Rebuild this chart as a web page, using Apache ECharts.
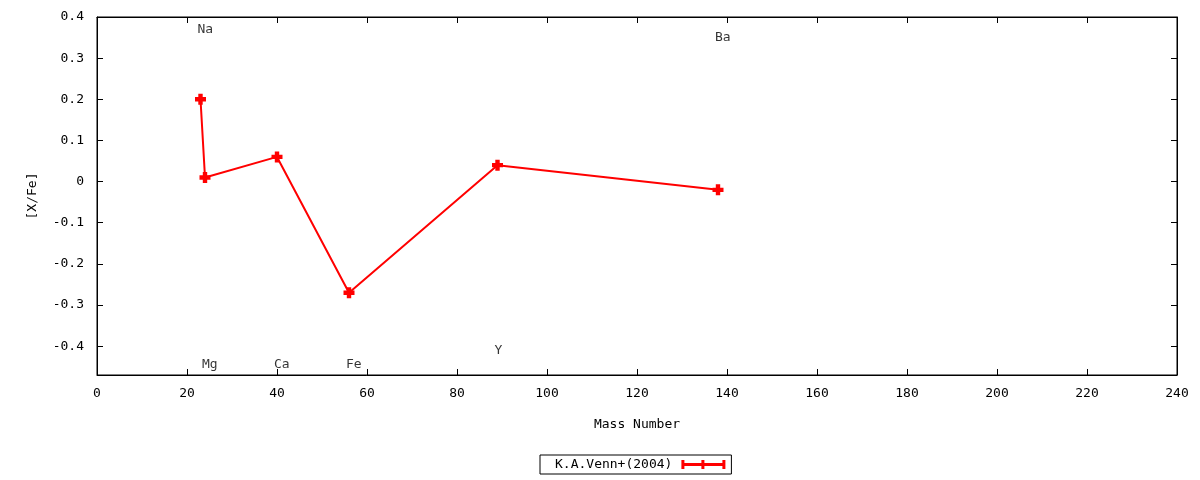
<!DOCTYPE html>
<html>
<head>
<meta charset="utf-8">
<script src="https://cdn.jsdelivr.net/npm/echarts@6/dist/echarts.min.js"></script>
<style>
  html, body { margin: 0; padding: 0; background: #fff; }
  #chart { width: 1200px; height: 480px; }
</style>
</head>
<body>
<div id="chart"></div>
<script>
// Abundance data: mass number vs [X/Fe]
const massNumber = [23, 24, 40, 56, 89, 138];
const xFe = [0.2, 0.01, 0.06, -0.27, 0.04, -0.02];

// Element labels placed in data coordinates
const labelNames = ["Na", "Mg", "Ca", "Fe", "Y", "Ba"];
const labelX = [23, 24, 40, 56, 89, 138];
const labelY = [0.37, -0.445, -0.445, -0.445, -0.41, 0.35];

const seriesName = "K.A.Venn+(2004)";
const FONT = "DejaVu Sans Mono";

// Plus-shaped marker
const plusSymbol = "path://M3,0H7V3H10V7H7V10H3V7H0V3H3Z";

const chart = echarts.init(document.getElementById("chart"));

const lineData = massNumber.map((m, i) => [m, xFe[i]]);
const labelData = labelNames.map((n, i) => [labelX[i], labelY[i], n]);

const txt = { fontFamily: FONT, fontSize: 13, color: "#000" };
const axisLineStyle = { show: true, onZero: false, lineStyle: { color: "#000" } };
const tickStyle = { inside: true, length: 6, lineStyle: { color: "#000" } };

// only label the 0.1 steps (hides the -0.47 axis minimum)
function yLabel(v) {
    const r = Math.round(v * 10) / 10;
    return Math.abs(r - v) < 1e-6 ? String(r) : "";
}

let option = {
    animation: false,
    textStyle: txt,

    // GRID
    grid: {
        left: 97, right: 23, top: 17, bottom: 105,
        show: true, borderColor: "#000", borderWidth: 1
    },

    // XAXIS (bottom + mirrored top ticks)
    xAxis: [
        {
            type: "value", min: 0, max: 240, interval: 20, position: "bottom",
            name: "Mass Number", nameLocation: "middle", nameGap: 43,
            nameTextStyle: txt,
            axisLine: axisLineStyle,
            axisTick: tickStyle,
            axisLabel: Object.assign({ margin: 12 }, txt),
            splitLine: { show: false }
        },
        {
            type: "value", min: 0, max: 240, interval: 20, position: "top",
            axisLine: axisLineStyle,
            axisTick: tickStyle,
            axisLabel: { show: false },
            splitLine: { show: false }
        }
    ],

    // YAXIS (left + mirrored right ticks)
    yAxis: [
        {
            type: "value", min: -0.47, max: 0.4, splitNumber: 9, position: "left",
            name: "[X/Fe]", nameLocation: "middle", nameGap: 58, nameRotate: 90,
            nameTextStyle: txt,
            axisLine: axisLineStyle,
            axisTick: tickStyle,
            axisLabel: Object.assign({ margin: 13, showMinLabel: false, formatter: yLabel }, txt),
            splitLine: { show: false }
        },
        {
            type: "value", min: -0.47, max: 0.4, splitNumber: 9, position: "right",
            axisLine: axisLineStyle,
            axisTick: tickStyle,
            axisLabel: { show: false },
            splitLine: { show: false }
        }
    ],

    // LEGEND
    legend: {
        data: [seriesName],
        left: 540, top: 455,
        align: "right",
        selectedMode: false,
        borderColor: "#000", borderWidth: 1, borderRadius: 0,
        padding: [3, 6, 3, 15],
        itemWidth: 44, itemHeight: 9,
        icon: "path://M0,3H44V6H0Z M0,0H3V9H0Z M20,0H23V9H20Z M41,0H44V9H41Z",
        textStyle: Object.assign({ padding: [0, 4, 0, 0] }, txt)
    },

    series: [
        {
            name: seriesName,
            type: "line",
            data: lineData,
            symbol: plusSymbol,
            symbolSize: 11,
            showSymbol: true,
            color: "#ff0000",
            lineStyle: { color: "#ff0000", width: 2 },
            itemStyle: { color: "#ff0000" }
        },
        {
            name: "labels",
            type: "scatter",
            data: labelData,
            symbolSize: 0,
            silent: true,
            label: Object.assign({
                show: true, position: "right", distance: 0, offset: [-3, 0],
                formatter: p => p.data[2]
            }, txt)
        }
    ]
};

chart.setOption(option);
</script>
</body>
</html>
